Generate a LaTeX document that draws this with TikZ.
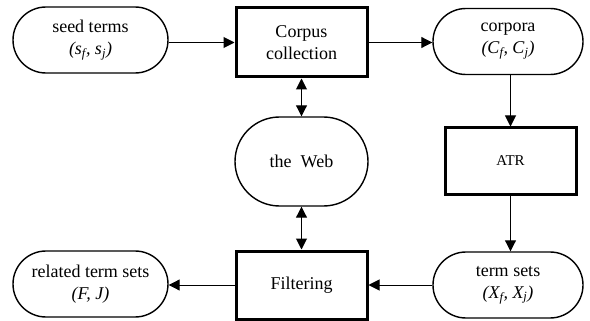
\documentclass[tikz,border=0pt]{standalone}
\usepackage{fontspec}
\setmainfont{Liberation Serif}
\newfontfamily\tnr{Liberation Serif}
\usetikzlibrary{arrows.meta}
\begin{document}
\begin{tikzpicture}[x=1pt,y=-1pt,
  every node/.style={font=\tnr\fontsize{18}{22}\selectfont, align=center, inner sep=0pt},
  stadium/.style={draw, line width=1.4pt, minimum width=155pt, minimum height=66pt, rounded corners=33pt},
  procbox/.style={draw, line width=3pt, minimum width=131pt, minimum height=68pt},
  arr/.style={line width=1pt, -{Triangle[length=11pt,width=11pt]}},
  darr/.style={line width=1pt, {Triangle[length=11pt,width=11pt]}-{Triangle[length=11pt,width=11pt]}}]
\useasboundingbox (0,0) rectangle (590,321);
\node[stadium] (seed) at (90.5,40) {seed terms\\\textit{(s\textsubscript{f}, s\textsubscript{j})}};
\node[procbox, minimum height=69pt] (corpus) at (301.5,42.5) {Corpus\\collection};
\node[stadium, minimum width=150pt] (corpora) at (508,41.5) {corpora\\\textit{(C\textsubscript{f}, C\textsubscript{j})}};
\node[stadium, minimum width=133pt, minimum height=89pt, rounded corners=44.5pt] (web) at (301.5,161.5) {the~~Web};
\node[procbox, minimum height=66pt, font=\tnr\fontsize{15}{18}\selectfont] (atr) at (510.5,161) {ATR};
\node[stadium, minimum width=150pt] (terms) at (508,285) {term sets\\\textit{(X\textsubscript{f}, X\textsubscript{j})}};
\node[procbox] (filter) at (301.5,285) {Filtering};
\node[stadium] (related) at (90.5,284) {related term sets\\\textit{(F, J)}};
\draw[arr] (seed.east |- corpus.west) -- (corpus.west);
\draw[arr] (corpus.east) -- (corpora.west |- corpus.east);
\draw[arr] (corpora.south -| atr.north) -- (atr.north);
\draw[arr] (atr.south) -- (terms.north -| atr.south);
\draw[arr] (terms.west |- filter.east) -- (filter.east);
\draw[arr] (filter.west) -- (related.east |- filter.west);
\draw[darr] (corpus.south) -- (web.north);
\draw[darr] (web.south) -- (filter.north);
\end{tikzpicture}
\end{document}
